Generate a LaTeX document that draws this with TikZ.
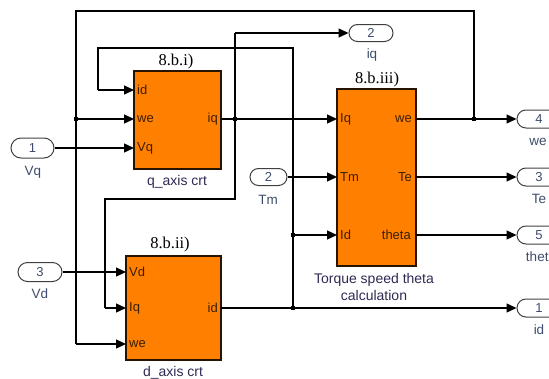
\documentclass[tikz,border=0pt]{standalone}
\usepackage{fontspec}
\setmainfont{Liberation Sans}
\newfontfamily\tnr{Liberation Serif}
\usetikzlibrary{arrows.meta,shapes.misc}
\definecolor{sorange}{HTML}{FF8000}
\definecolor{blktext}{HTML}{3C1E00}
\definecolor{captext}{HTML}{2E2A52}
\definecolor{porttext}{HTML}{3D4C6C}
\begin{document}
\begin{tikzpicture}[x=1pt,y=-1pt,
  sig/.style={line width=1.3pt, draw=black},
  arr/.style={sig,-{Triangle[length=10pt,width=9pt]}},
  blk/.style={draw=black!85!orange, line width=1.1pt, fill=sorange, inner sep=0pt},
  plab/.style={text=blktext, inner sep=0pt, font=\fontsize{13}{15}\selectfont},
  captxt/.style={text=captext, inner sep=0pt, font=\fontsize{14}{18}\selectfont, align=center},
  num/.style={text=black, inner sep=0pt, font=\tnr\fontsize{16.5}{18}\selectfont},
  oval/.style={rounded rectangle, draw=black!75, line width=1pt, inner sep=0pt,
    text=porttext, font=\fontsize{13}{15}\selectfont},
  olab/.style={text=porttext, inner sep=0pt, font=\fontsize{13.5}{15}\selectfont},
  jdot/.style={fill=black, inner sep=0pt, minimum size=4pt}]
\clip (0,0) rectangle (549,378);
% ---- blocks
\node[blk, minimum width=87pt, minimum height=98pt] (qax) at (177.5,120) {};
\node[blk, minimum width=95pt, minimum height=104pt] (dax) at (173.5,308) {};
\node[blk, minimum width=79pt, minimum height=177pt] (tsc) at (376.5,177.5) {};
% ---- block titles
\node[num] (tq) at (176,62) {8.b.i)};
\node[num] (td) at (170,245) {8.b.ii)};
\node[num] (tt) at (377,80) {8.b.iii)};
% ---- captions
\node[captxt] (cq) at (177,182) {q\_axis crt};
\node[captxt] (cd) at (173,373) {d\_axis crt};
\node[captxt] (ct) at (374,287) {Torque speed theta\\[-1pt]calculation};
% ---- port labels inside blocks
\node[plab, anchor=west] (lqid) at (137,90) {id};
\node[plab, anchor=west] (lqwe) at (137,119) {we};
\node[plab, anchor=west] (lqvq) at (137,148) {Vq};
\node[plab, anchor=east] (lqiq) at (218,119) {iq};
\node[plab, anchor=west] (ldvd) at (129,272) {Vd};
\node[plab, anchor=west] (ldiq) at (129,308) {Iq};
\node[plab, anchor=west] (ldwe) at (129,344) {we};
\node[plab, anchor=east] (ldid) at (218,308) {id};
\node[plab, anchor=west] (ltiq) at (340,119) {Iq};
\node[plab, anchor=west] (lttm) at (340,177) {Tm};
\node[plab, anchor=west] (ltid) at (340,235) {Id};
\node[plab, anchor=east] (ltwe) at (412,119) {we};
\node[plab, anchor=east] (ltte) at (412,177) {Te};
\node[plab, anchor=east] (ltth) at (411,235) {theta};
% ---- port coordinates
\coordinate (qax-id) at (134,90);
\coordinate (qax-we) at (134,119);
\coordinate (qax-vq) at (134,148);
\coordinate (qax-iq) at (221,119);
\coordinate (dax-vd) at (126,272);
\coordinate (dax-iq) at (126,308);
\coordinate (dax-we) at (126,344);
\coordinate (dax-id) at (221,308);
\coordinate (tsc-iq) at (337,119);
\coordinate (tsc-tm) at (337,177);
\coordinate (tsc-id) at (337,235);
\coordinate (tsc-we) at (416,119);
\coordinate (tsc-te) at (416,177);
\coordinate (tsc-th) at (416,235);
% ---- inports / outports
\node[oval, minimum width=43pt, minimum height=20pt] (in1) at (32.5,148) {1};
\node[olab] (lin1) at (33,172) {Vq};
\node[oval, minimum width=44pt, minimum height=19pt] (in3) at (40,272) {3};
\node[olab] (lin3) at (40,294) {Vd};
\node[oval, minimum width=37pt, minimum height=17pt] (in2) at (268.5,177) {2};
\node[olab] (lin2) at (268,200) {Tm};
\node[oval, minimum width=44pt, minimum height=17pt] (out2) at (371,33) {2};
\node[olab] (lout2) at (372,55) {iq};
\node[oval, minimum width=44pt, minimum height=18pt] (out4) at (539,119) {4};
\node[olab] (lout4) at (538,142) {we};
\node[oval, minimum width=44pt, minimum height=18pt] (out3) at (539,177) {3};
\node[olab] (lout3) at (539,199) {Te};
\node[oval, minimum width=44pt, minimum height=18pt] (out5) at (539,235) {5};
\node[olab] (lout5) at (541,257) {theta};
\node[oval, minimum width=44pt, minimum height=18pt] (out1) at (539,308) {1};
\node[olab] (lout1) at (539,330) {id};
% ---- routing points
\coordinate (jwe) at (474,119);
\coordinate (cwe1) at (474,11);
\coordinate (cwe2) at (76,11);
\coordinate (jwe2) at (76,119);
\coordinate (cwe3) at (76,344);
\coordinate (jiq) at (235,119);
\coordinate (ciq1) at (235,33);
\coordinate (ciq2) at (235,199);
\coordinate (ciq3) at (105,199);
\coordinate (ciq4) at (105,308);
\coordinate (jid) at (293,308);
\coordinate (jid2) at (293,235);
\coordinate (cid1) at (293,48);
\coordinate (cid2) at (98,48);
\coordinate (cid3) at (98,90);
% ---- connectors
\draw[arr] (in1.east) -- (qax-vq);
\draw[arr] (in3.east) -- (dax-vd);
\draw[arr] (in2.east) -- (tsc-tm);
\draw[arr] (tsc-we) -- (out4.west);
\draw[arr] (tsc-te) -- (out3.west);
\draw[arr] (tsc-th) -- (out5.west);
\draw[sig] (jwe) -- (cwe1) -- (cwe2) -- (cwe3);
\draw[arr] (cwe3) -- (dax-we);
\draw[arr] (jwe2) -- (qax-we);
\draw[arr] (qax-iq) -- (tsc-iq);
\draw[sig] (ciq1) -- (ciq2) -- (ciq3) -- (ciq4);
\draw[arr] (ciq1) -- (out2.west);
\draw[arr] (ciq4) -- (dax-iq);
\draw[arr] (dax-id) -- (out1.west);
\draw[sig] (jid) -- (cid1) -- (cid2) -- (cid3);
\draw[arr] (cid3) -- (qax-id);
\draw[arr] (jid2) -- (tsc-id);
% ---- junction dots
\node[jdot] (d1) at (jwe) {};
\node[jdot] (d2) at (jwe2) {};
\node[jdot] (d3) at (jiq) {};
\node[jdot] (d4) at (jid) {};
\node[jdot] (d5) at (jid2) {};
\end{tikzpicture}
\end{document}
